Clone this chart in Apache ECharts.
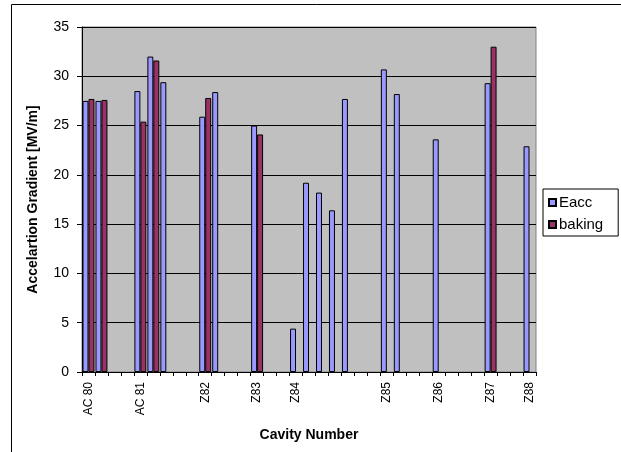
<!DOCTYPE html>
<html>
<head>
<meta charset="utf-8">
<script src="https://cdn.jsdelivr.net/npm/echarts@6/dist/echarts.min.js"></script>
<style>
html,body{margin:0;padding:0;background:#fff;}
#chart{width:621px;height:452px;}
</style>
</head>
<body>
<div id="chart"></div>
<script>
const categories = ['AC 80','','','','AC 81','','','','','Z82','','','','Z83','','','Z84','','','','','','','Z85','','','','Z86','','','','Z87','','','Z88'];
const eaccValues = [27.5,27.5,null,null,28.5,32.0,29.4,null,null,25.9,28.4,null,null,25.0,null,null,4.4,19.2,18.2,16.4,27.7,null,null,30.7,28.2,null,null,23.6,null,null,null,29.3,null,null,22.9];
const bakingValues = [27.7,27.6,null,null,25.4,31.6,null,null,null,27.8,null,null,null,24.1,null,null,null,null,null,null,null,null,null,null,null,null,null,null,null,null,null,33.0,null,null,null];
const yTicks = {min: 0, max: 35, interval: 5};

const FONT = '"Liberation Sans", Arial, sans-serif';
const chart = echarts.init(document.getElementById('chart'), null, {renderer: 'canvas'});
chart.setOption({
  animation: false,
  backgroundColor: '#ffffff',
  textStyle: {fontFamily: FONT, color: '#000'},
  graphic: [{
    type: 'rect',
    shape: {x: 11.5, y: 4.5, width: 640, height: 480},
    style: {fill: 'none', stroke: '#000', lineWidth: 1},
    silent: true
  }],
  grid: {
    left: 82, right: 85, top: 27, bottom: 80,
    show: true, backgroundColor: '#C0C0C0', borderColor: '#808080', borderWidth: 1
  },
  legend: {
    orient: 'vertical',
    left: 543, top: 189,
    padding: [6, 15, 4, 5],
    itemGap: 7,
    itemWidth: 7, itemHeight: 7,
    icon: 'rect',
    borderColor: '#000', borderWidth: 1,
    backgroundColor: '#fff',
    textStyle: {fontFamily: FONT, fontSize: 15, color: '#000', padding: [0,0,0,-2]},
    data: ['Eacc', 'baking']
  },
  xAxis: {
    type: 'category',
    data: categories,
    name: 'Cavity Number',
    nameLocation: 'middle',
    nameGap: 56,
    nameTextStyle: {fontFamily: FONT, fontSize: 14, fontWeight: 'bold', color: '#000'},
    axisLine: {show: true, lineStyle: {color: '#000', width: 1}},
    axisTick: {show: true, interval: 0, length: 4, alignWithLabel: false, lineStyle: {color: '#000'}},
    axisLabel: {interval: 0, rotate: 90, margin: 10, fontFamily: FONT, fontSize: 12, color: '#000'},
    splitLine: {show: false}
  },
  yAxis: {
    type: 'value',
    min: yTicks.min, max: yTicks.max, interval: yTicks.interval,
    name: 'Accelartion Gradient [MV/m]',
    nameLocation: 'middle',
    nameGap: 42,
    nameTextStyle: {fontFamily: FONT, fontSize: 14, fontWeight: 'bold', color: '#000'},
    axisLine: {show: true, lineStyle: {color: '#000', width: 1}},
    axisTick: {show: true, length: 5, lineStyle: {color: '#000'}},
    axisLabel: {margin: 13, fontFamily: FONT, fontSize: 14, color: '#000'},
    splitLine: {show: true, lineStyle: {color: '#000', width: 1}}
  },
  series: [
    {
      name: 'Eacc', type: 'bar', data: eaccValues,
      barGap: '0%', barCategoryGap: '8%',
      itemStyle: {color: '#9999FF', borderColor: '#000', borderWidth: 1}
    },
    {
      name: 'baking', type: 'bar', data: bakingValues,
      barGap: '0%', barCategoryGap: '8%',
      itemStyle: {color: '#993366', borderColor: '#000', borderWidth: 1}
    }
  ]
});
</script>
</body>
</html>
